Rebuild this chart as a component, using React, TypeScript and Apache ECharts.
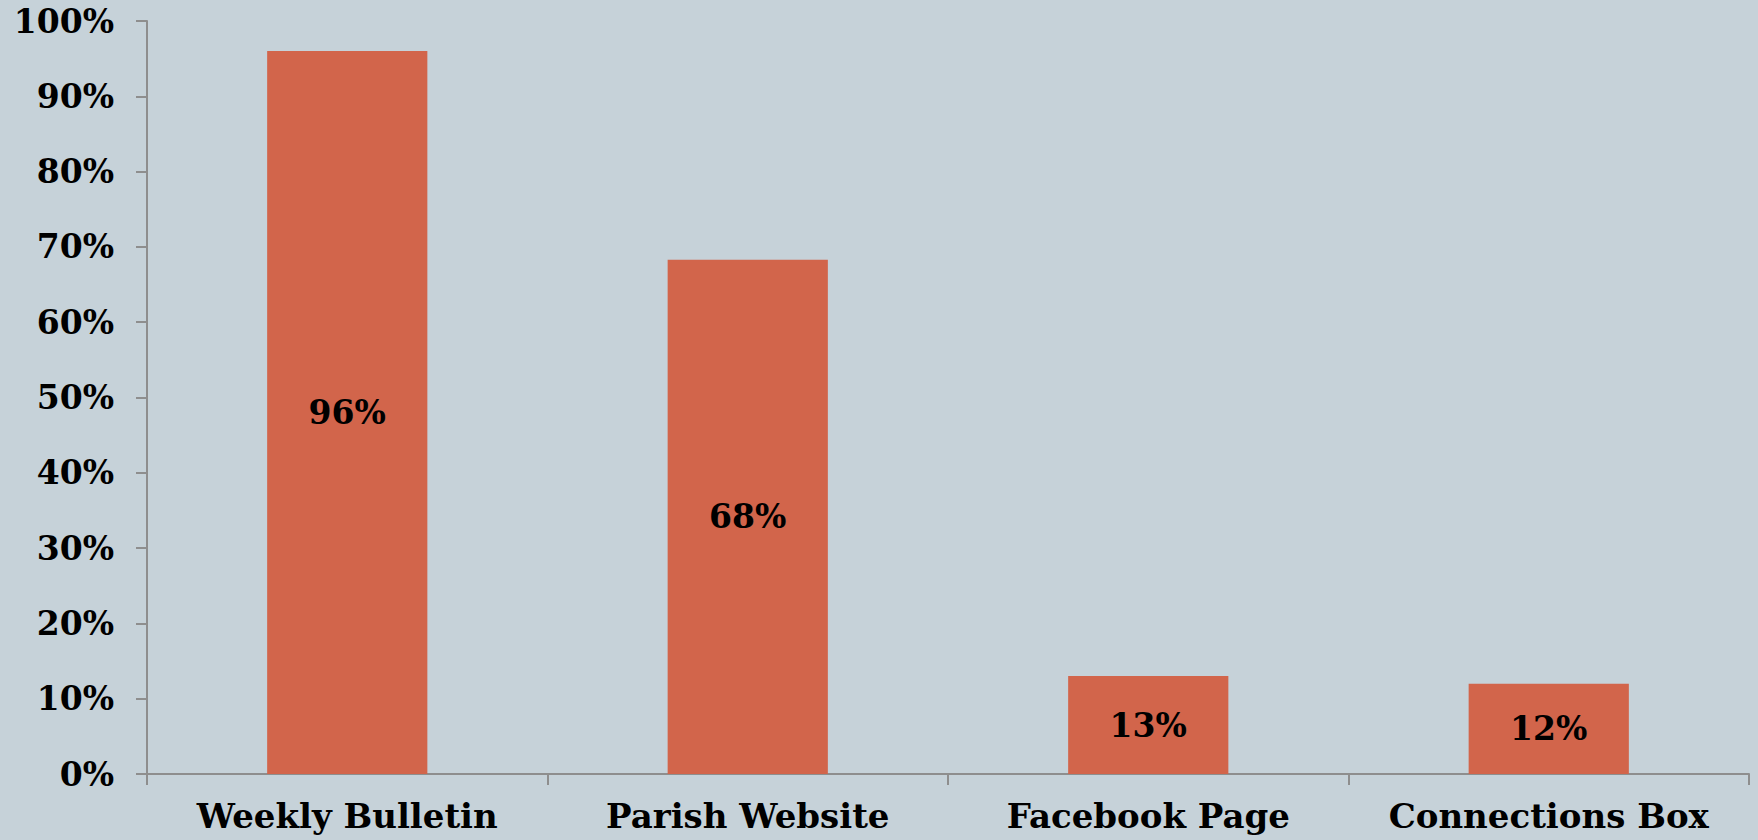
import React, { useEffect, useRef } from "react";
import * as echarts from "echarts";

const categories = ["Weekly Bulletin", "Parish Website", "Facebook Page", "Connections Box"];
const values = [96, 68.3, 13, 12];
const yTicks = { min: 0, max: 100, interval: 10 };

const FONT = "Georgia, 'DejaVu Serif', serif";

export default function App() {
  const ref = useRef<HTMLDivElement>(null);
  useEffect(() => {
    if (!ref.current) return;
    const chart = echarts.init(ref.current, undefined, { renderer: "svg" });
    chart.setOption({
      animation: false,
      backgroundColor: "#c6d2d9",
      grid: { left: 147, right: 9, top: 21, bottom: 66, containLabel: false },
      xAxis: {
        type: "category",
        data: categories,
        boundaryGap: true,
        axisLine: { show: true, lineStyle: { color: "#8e8e8e", width: 2 } },
        axisTick: { show: true, alignWithLabel: false, length: 11, lineStyle: { color: "#8e8e8e", width: 2 } },
        axisLabel: {
          margin: 25,
          color: "#000",
          fontFamily: FONT,
          fontWeight: "bold",
          fontSize: 34,
          interval: 0,
        },
        splitLine: { show: false },
      },
      yAxis: {
        type: "value",
        min: yTicks.min,
        max: yTicks.max,
        interval: yTicks.interval,
        axisLine: { show: true, lineStyle: { color: "#8e8e8e", width: 2 } },
        axisTick: { show: true, length: 11, lineStyle: { color: "#8e8e8e", width: 2 } },
        axisLabel: {
          margin: 33,
          color: "#000",
          fontFamily: FONT,
          fontWeight: "bold",
          fontSize: 33,
          formatter: "{value}%",
        },
        splitLine: { show: false },
      },
      series: [
        {
          type: "bar",
          data: values,
          barCategoryGap: "60%",
          itemStyle: { color: "#d2654b" },
          label: {
            show: true,
            position: "inside",
            color: "#000",
            fontFamily: FONT,
            fontWeight: "bold",
            fontSize: 33,
            formatter: (p: any) => `${Math.round(p.value)}%`,
          },
        },
      ],
    });
    return () => chart.dispose();
  }, []);
  return (
    <div
      ref={ref}
      style={{ position: "fixed", left: 0, top: 0, width: 1758, height: 840 }}
    />
  );
}
